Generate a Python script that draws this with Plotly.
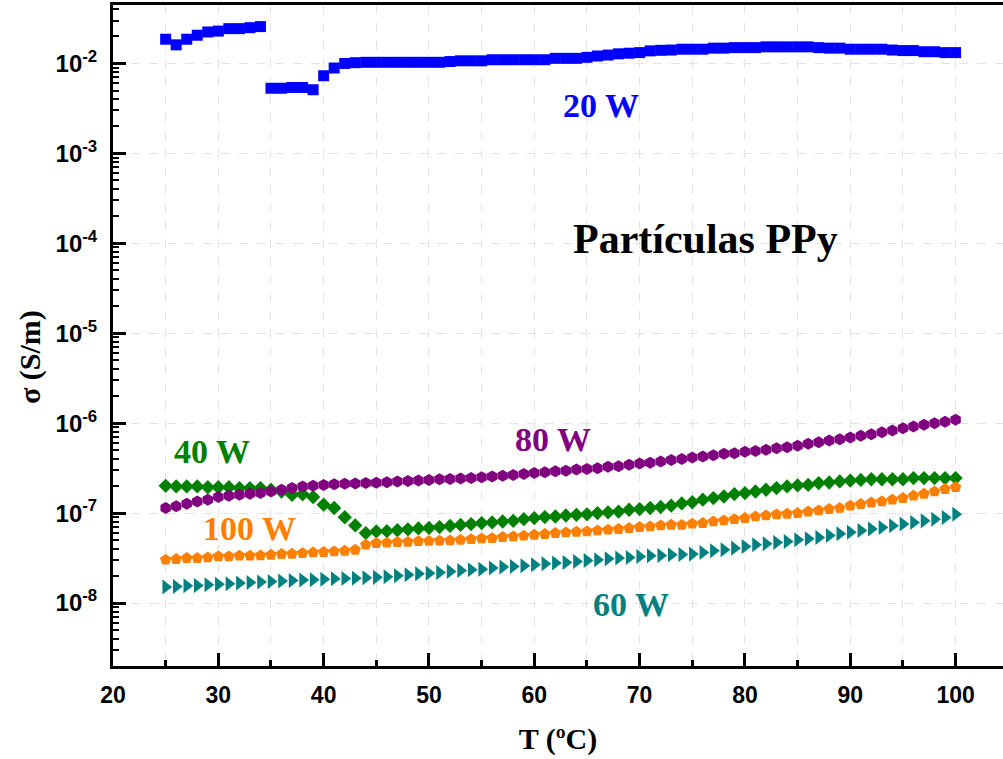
import plotly.graph_objects as go

# Temperature sweep (ºC)
temperature = list(range(25, 101))

# Conductivity sigma (S/m) per plasma power
sigma_20w = [
    0.0186, 0.0161, 0.0186, 0.0206, 0.0224, 0.0229, 0.0244, 0.0244, 0.0250, 0.0257,
    0.0053, 0.0053, 0.0054, 0.0054, 0.0051, 0.0073, 0.0089, 0.0100, 0.0102, 0.0103,
    0.0103, 0.0103, 0.0103, 0.0103, 0.0103, 0.0103, 0.0103, 0.0105, 0.0107, 0.0107,
    0.0107, 0.0110, 0.0110, 0.0110, 0.0110, 0.0110, 0.0110, 0.0114, 0.0114, 0.0114,
    0.0117, 0.0121, 0.0124, 0.0128, 0.0130, 0.0132, 0.0138, 0.0140, 0.0141, 0.0144,
    0.0144, 0.0144, 0.0148, 0.0148, 0.0150, 0.0150, 0.0150, 0.0153, 0.0153, 0.0153,
    0.0153, 0.0153, 0.0150, 0.0148, 0.0148, 0.0144, 0.0144, 0.0144, 0.0144, 0.0141,
    0.0139, 0.0139, 0.0135, 0.0135, 0.0132, 0.0132,
]

sigma_40w = [
    2.01e-7, 1.98e-7, 1.98e-7, 1.98e-7, 1.94e-7, 1.94e-7, 1.94e-7, 1.90e-7, 1.90e-7, 1.90e-7,
    1.82e-7, 1.74e-7, 1.60e-7, 1.62e-7, 1.51e-7, 1.24e-7, 1.14e-7, 9.0e-8, 7.3e-8, 6.0e-8,
    6.25e-8, 6.3e-8, 6.45e-8, 6.6e-8, 6.75e-8, 6.85e-8, 7.0e-8, 7.2e-8, 7.4e-8, 7.55e-8,
    7.74e-8, 7.87e-8, 8.07e-8, 8.20e-8, 8.57e-8, 8.80e-8, 9.03e-8, 9.17e-8, 9.41e-8, 9.58e-8,
    9.7e-8, 1.0e-7, 1.02e-7, 1.04e-7, 1.09e-7, 1.11e-7, 1.14e-7, 1.17e-7, 1.21e-7, 1.28e-7,
    1.32e-7, 1.41e-7, 1.47e-7, 1.53e-7, 1.63e-7, 1.67e-7, 1.74e-7, 1.82e-7, 1.90e-7, 1.98e-7,
    2.03e-7, 2.06e-7, 2.16e-7, 2.19e-7, 2.25e-7, 2.30e-7, 2.34e-7, 2.38e-7, 2.38e-7, 2.38e-7,
    2.38e-7, 2.45e-7, 2.45e-7, 2.45e-7, 2.45e-7, 2.45e-7,
]

sigma_60w = [
    1.51e-8, 1.53e-8, 1.56e-8, 1.57e-8, 1.60e-8, 1.62e-8, 1.64e-8, 1.67e-8, 1.69e-8, 1.71e-8,
    1.74e-8, 1.76e-8, 1.78e-8, 1.80e-8, 1.82e-8, 1.84e-8, 1.86e-8, 1.87e-8, 1.89e-8, 1.91e-8,
    1.93e-8, 1.96e-8, 2.01e-8, 2.06e-8, 2.12e-8, 2.15e-8, 2.19e-8, 2.25e-8, 2.30e-8, 2.34e-8,
    2.38e-8, 2.45e-8, 2.51e-8, 2.55e-8, 2.60e-8, 2.66e-8, 2.73e-8, 2.78e-8, 2.83e-8, 2.90e-8,
    2.97e-8, 3.03e-8, 3.11e-8, 3.16e-8, 3.21e-8, 3.30e-8, 3.36e-8, 3.38e-8, 3.44e-8, 3.47e-8,
    3.50e-8, 3.65e-8, 3.81e-8, 3.91e-8, 4.08e-8, 4.26e-8, 4.45e-8, 4.56e-8, 4.72e-8, 4.84e-8,
    5.05e-8, 5.18e-8, 5.36e-8, 5.64e-8, 5.89e-8, 6.14e-8, 6.41e-8, 6.64e-8, 6.92e-8, 7.22e-8,
    7.55e-8, 7.87e-8, 8.20e-8, 8.57e-8, 8.94e-8, 9.74e-8,
]

sigma_80w = [
    1.14e-7, 1.19e-7, 1.27e-7, 1.35e-7, 1.41e-7, 1.51e-7, 1.56e-7, 1.60e-7, 1.64e-7, 1.67e-7,
    1.74e-7, 1.82e-7, 1.90e-7, 1.98e-7, 2.01e-7, 2.06e-7, 2.10e-7, 2.12e-7, 2.13e-7, 2.16e-7,
    2.18e-7, 2.21e-7, 2.24e-7, 2.27e-7, 2.30e-7, 2.34e-7, 2.38e-7, 2.40e-7, 2.43e-7, 2.46e-7,
    2.51e-7, 2.55e-7, 2.60e-7, 2.66e-7, 2.73e-7, 2.80e-7, 2.84e-7, 2.92e-7, 2.96e-7, 3.05e-7,
    3.09e-7, 3.16e-7, 3.28e-7, 3.32e-7, 3.44e-7, 3.57e-7, 3.62e-7, 3.75e-7, 3.90e-7, 4.00e-7,
    4.15e-7, 4.26e-7, 4.41e-7, 4.56e-7, 4.64e-7, 4.80e-7, 4.92e-7, 5.05e-7, 5.27e-7, 5.41e-7,
    5.60e-7, 5.89e-7, 6.15e-7, 6.41e-7, 6.64e-7, 6.92e-7, 7.23e-7, 7.55e-7, 7.94e-7, 8.28e-7,
    8.80e-7, 9.17e-7, 9.58e-7, 1.00e-6, 1.04e-6, 1.09e-6,
]

sigma_100w = [
    3.03e-8, 3.08e-8, 3.16e-8, 3.16e-8, 3.21e-8, 3.30e-8, 3.30e-8, 3.36e-8, 3.36e-8, 3.38e-8,
    3.44e-8, 3.50e-8, 3.53e-8, 3.59e-8, 3.65e-8, 3.69e-8, 3.75e-8, 3.81e-8, 3.91e-8, 4.45e-8,
    4.64e-8, 4.68e-8, 4.76e-8, 4.78e-8, 4.88e-8, 4.90e-8, 4.94e-8, 4.96e-8, 5.05e-8, 5.13e-8,
    5.22e-8, 5.27e-8, 5.41e-8, 5.50e-8, 5.60e-8, 5.74e-8, 5.84e-8, 6.0e-8, 6.09e-8, 6.19e-8,
    6.25e-8, 6.41e-8, 6.53e-8, 6.64e-8, 6.81e-8, 6.99e-8, 7.10e-8, 7.29e-8, 7.41e-8, 7.40e-8,
    7.62e-8, 7.74e-8, 8.07e-8, 8.28e-8, 8.57e-8, 8.80e-8, 9.17e-8, 9.41e-8, 9.66e-8, 9.82e-8,
    1.0e-7, 1.04e-7, 1.07e-7, 1.11e-7, 1.14e-7, 1.21e-7, 1.26e-7, 1.31e-7, 1.35e-7, 1.41e-7,
    1.47e-7, 1.56e-7, 1.64e-7, 1.74e-7, 1.85e-7, 1.94e-7,
]

# Decade ticks on the conductivity axis
decade_exponents = [-8, -7, -6, -5, -4, -3, -2]
decade_values = [10.0 ** e for e in decade_exponents]
decade_labels = ["10<sup>%d</sup>" % e for e in decade_exponents]
minor_values = [m * 10.0 ** e for e in range(-9, -1) for m in range(2, 10)]

series = [
    ("20 W", sigma_20w, "#0000FF", "square", 11),
    ("40 W", sigma_40w, "#008000", "diamond", 11),
    ("60 W", sigma_60w, "#008080", "triangle-right", 13),
    ("80 W", sigma_80w, "#800080", "hexagon", 12),
    ("100 W", sigma_100w, "#FF8000", "pentagon", 12),
]

fig = go.Figure()
for name, values, color, symbol, size in series:
    fig.add_trace(go.Scatter(
        x=temperature, y=values, name=name, mode="markers",
        marker=dict(symbol=symbol, size=size, color=color, line=dict(width=0)),
    ))

serif = "Liberation Serif, Times New Roman, serif"
sans = "Liberation Sans, Arial, sans-serif"

# Series labels and plot title inside the axes
labels = [
    ("20 W", 66.3, -2.47, "#0000FF", 34),
    ("Partículas PPy", 76.3, -3.95, "#000000", 42),
    ("80 W", 61.8, -6.18, "#800080", 34),
    ("40 W", 29.4, -6.31, "#008000", 34),
    ("100 W", 33.0, -7.17, "#FF8000", 34),
    ("60 W", 69.2, -8.02, "#008080", 34),
]
for text, lx, ly, color, fsize in labels:
    fig.add_annotation(
        x=lx, y=ly, xref="x", yref="y", text="<b>%s</b>" % text, showarrow=False,
        font=dict(family=serif, size=fsize, color=color),
        xanchor="center", yanchor="middle",
    )

# Vertical axis title, placed left of the tick labels
fig.add_annotation(
    x=(30 - 113) / (1003 - 113), y=(666 - 357) / (666 - 5),
    xref="paper", yref="paper", text="<b>σ (S/m)</b>", showarrow=False,
    textangle=-90, font=dict(family=serif, size=30, color="#000000"),
    xanchor="center", yanchor="middle",
)

grid_style = dict(gridcolor="#E3E3E3", gridwidth=1, griddash="dash")

fig.update_layout(
    width=1003, height=759,
    margin=dict(l=113, r=0, t=5, b=93),
    paper_bgcolor="white", plot_bgcolor="white",
    showlegend=False,
    xaxis=dict(
        range=[20, 104.5], tickmode="linear", tick0=0, dtick=10,
        ticks="inside", ticklen=13, tickwidth=3, tickcolor="black",
        showline=True, linewidth=3, linecolor="black", mirror=True,
        showgrid=True, **grid_style, zeroline=False,
        tickfont=dict(family=sans, size=23, color="black", weight="bold"),
        ticklabelstandoff=6,
        minor=dict(dtick=5, tick0=0, ticks="inside", ticklen=6, tickwidth=3,
                   tickcolor="black", showgrid=True, **grid_style),
        title=dict(text="<b>T (ºC)</b>", font=dict(family=serif, size=30, color="black"),
                   standoff=22),
    ),
    yaxis=dict(
        type="log", range=[-8.70, -1.35],
        tickmode="array", tickvals=decade_values, ticktext=decade_labels,
        ticks="inside", ticklen=13, tickwidth=3, tickcolor="black",
        showline=True, linewidth=3, linecolor="black",
        showgrid=True, **grid_style, zeroline=False,
        tickfont=dict(family=sans, size=24, color="black", weight="bold"),
        ticklabelstandoff=8,
        minor=dict(tickmode="array", tickvals=minor_values, ticks="inside", ticklen=6,
                   tickwidth=2, tickcolor="black", showgrid=False),
    ),
)

fig.write_html("out.html")
